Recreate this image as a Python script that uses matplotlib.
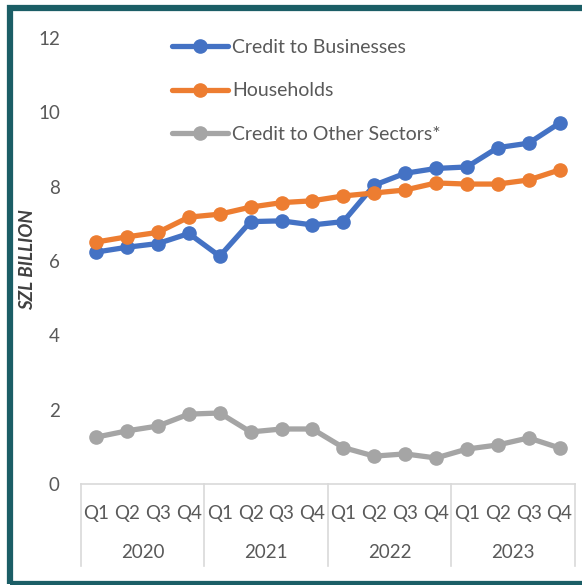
import matplotlib.pyplot as plt
import matplotlib.transforms as mtransforms
from matplotlib.lines import Line2D
from matplotlib.patches import Rectangle

plt.rcParams['font.family'] = ['Lato', 'DejaVu Sans']

years = ['2020', '2021', '2022', '2023']
quarters = ['Q1', 'Q2', 'Q3', 'Q4']

businesses = [6.24, 6.37, 6.47, 6.74, 6.13, 7.06, 7.08, 6.97,
              7.06, 8.04, 8.36, 8.49, 8.53, 9.05, 9.17, 9.71]
households = [6.51, 6.65, 6.77, 7.18, 7.26, 7.45, 7.57, 7.62,
              7.75, 7.83, 7.91, 8.10, 8.07, 8.07, 8.18, 8.45]
other = [1.26, 1.43, 1.56, 1.88, 1.91, 1.40, 1.48, 1.48,
         0.98, 0.75, 0.81, 0.70, 0.94, 1.05, 1.24, 0.97]

W, H = 582, 585
fig = plt.figure(figsize=(W / 100, H / 100), dpi=100)

def fx(px):
    return px / W

def fy(py):
    return 1 - py / H

ax = fig.add_axes([fx(80.7), fy(484), fx(575) - fx(80.7), fy(38) - fy(484)])

x = list(range(len(businesses)))
series = [
    (businesses, '#4472C4', 'Credit to Businesses'),
    (households, '#ED7D31', 'Households'),
    (other, '#A5A5A5', 'Credit to Other Sectors*'),
]
for vals, col, lab in series:
    ax.plot(x, vals, color=col, lw=3.8, marker='o', ms=9.5, label=lab,
            solid_capstyle='round', solid_joinstyle='round')

txt = '#595959'
fs = 13.5
ax.set_xlim(-0.5, 15.5)
ax.set_ylim(0, 12)
ax.set_yticks(range(0, 13, 2))
ax.tick_params(axis='y', length=0, pad=15, labelsize=fs, labelcolor=txt)
ax.set_xticks(x)
ax.set_xticklabels(quarters * len(years))
ax.tick_params(axis='x', length=0, pad=15, labelsize=fs, labelcolor=txt)

for s in ['top', 'right', 'left']:
    ax.spines[s].set_visible(False)
ax.spines['bottom'].set_color('#D9D9D9')
ax.spines['bottom'].set_linewidth(1.2)

# year group labels and separators under the quarter ticks
tr = mtransforms.blended_transform_factory(ax.transData, fig.transFigure)
for i, yr in enumerate(years):
    ax.text(i * 4 + 1.5, fy(553), yr, transform=tr,
            ha='center', va='center', fontsize=fs, color=txt)
bounds = [-0.5, 3.5, 7.5, 11.5, 15.5]
for b in bounds:
    fig.add_artist(Line2D([b, b], [fy(484), fy(566)], transform=tr,
                          color='#D9D9D9', lw=1.2))

fig.text(fx(28), fy(260), 'SZL BILLION', rotation=90, ha='center', va='center',
         fontsize=13.5, fontweight='bold', fontstyle='italic', color='#404040')

ax.legend(loc='upper left', bbox_to_anchor=(fx(172), fy(39)),
          bbox_transform=fig.transFigure, frameon=False, fontsize=14,
          labelcolor=txt, handlelength=2.9, handletextpad=0.2,
          labelspacing=1.36, borderpad=0, borderaxespad=0)

# outer frame
fig.add_artist(Rectangle((fx(10.5), fy(584)), fx(600) - fx(10.5), fy(8) - fy(584),
                         transform=fig.transFigure, fill=False,
                         edgecolor='#1B5E66', lw=4.5))

fig.savefig('out.png', dpi=100)
